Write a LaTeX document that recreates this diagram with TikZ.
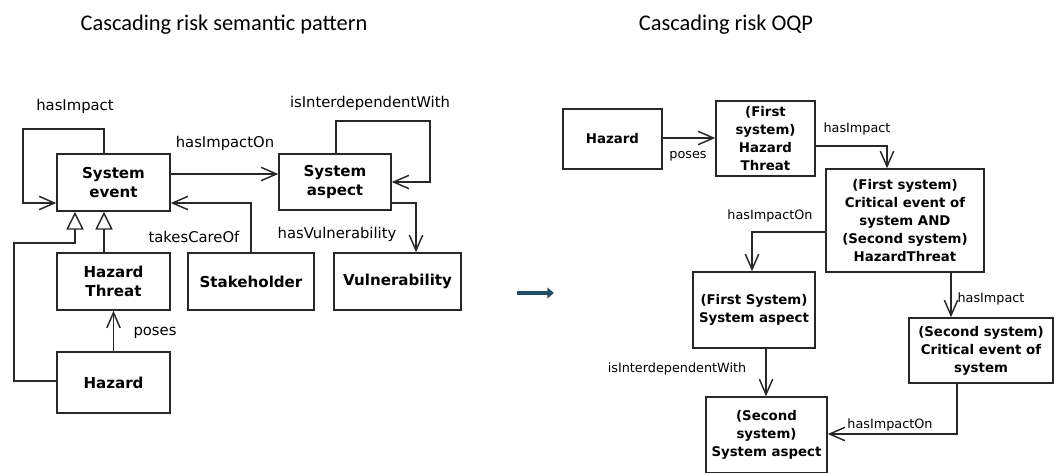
\documentclass[tikz,border=0pt]{standalone}
\usepackage{fontspec}
\setmainfont{DejaVu Sans}
\newfontfamily\titlefont{Carlito}
\usetikzlibrary{arrows.meta}
\definecolor{midarrow}{RGB}{31,78,102}
\definecolor{edge}{RGB}{40,40,40}

\begin{document}
\begin{tikzpicture}[x=0.75pt,y=-0.75pt,line width=1.1pt,draw=edge,
        cls/.style={draw=edge, inner sep=0pt, align=center, font=\fontsize{11.3}{14.25}\selectfont\bfseries},
        oqp/.style={draw=edge, inner sep=0pt, align=center, font=\fontsize{10}{13.5}\selectfont\bfseries},
        rel/.style={-{Straight Barb[length=11.5pt,width=10pt]}},
        isa/.style={-{Triangle[open,length=13.5pt,width=13pt]}},
        lbl/.style={inner sep=0pt, font=\fontsize{11.1}{13}\selectfont},
        rlbl/.style={inner sep=0pt, font=\fontsize{9.6}{11}\selectfont},
        ttl/.style={inner sep=0pt, font=\titlefont\fontsize{16.8}{19}\selectfont}]
        \useasboundingbox (0,0) rectangle (1059,472);

        \node[ttl] (title1) at (224,25) {Cascading risk semantic pattern};
        \node[ttl] (title2) at (726,25) {Cascading risk OQP};

        \node[cls, minimum width=84.75pt, minimum height=42.75pt] (sysevent) at (113.5,182.5) {System\\event};
        \node[cls, minimum width=84pt, minimum height=42pt] (sysaspect) at (335,182) {System\\aspect};
        \node[cls, minimum width=84.75pt, minimum height=42.75pt] (hthreat) at (113.5,281.5) {Hazard\\Threat};
        \node[cls, minimum width=94.5pt, minimum height=42.75pt] (stake) at (251,281.5) {Stakeholder};
        \node[cls, minimum width=95.25pt, minimum height=42.75pt] (vuln) at (397.5,281.5) {Vulnerability};
        \node[cls, minimum width=84.75pt, minimum height=45.75pt] (hazard) at (113.5,382.5) {Hazard};

        \draw[rel] (sysevent.north -| 104,0) -- (104,129) -- (23,129) -- (23,203) -- (sysevent.west |- 0,203);
        \draw[rel] (sysevent.east |- 0,174) -- (sysaspect.west |- 0,174);
        \draw[rel] (sysaspect.north -| 336,0) -- (336,121) -- (430,121) -- (430,182) -- (sysaspect.east);
        \draw[rel] (stake.north) |- (sysevent.east |- 0,203);
        \draw[rel] (sysaspect.east |- 0,203) -- (416,203) -- (vuln.north -| 416,0);
        \draw[rel] (hazard.north) -- (hthreat.south);
        \draw[isa] (hthreat.north -| 104,0) -- (sysevent.south -| 104,0);
        \draw[isa] (hazard.west |- 0,381) -- (14,381) -- (14,243) -- (75,243) -- (sysevent.south -| 75,0);

        \node[lbl] (l1) at (75,106) {hasImpact};
        \node[lbl] (l2) at (370,103) {isInterdependentWith};
        \node[lbl] (l3) at (225,143) {hasImpactOn};
        \node[lbl] (l4) at (194,237) {takesCareOf};
        \node[lbl] (l5) at (337,234) {hasVulnerability};
        \node[lbl] (l6) at (155,333) {poses};

        \coordinate (from) at (517,293);
        \coordinate (to) at (554,293);
        \draw[midarrow, line width=3pt, -{Triangle[length=5pt,width=8pt]}] (from) -- (to);

        \node[oqp, minimum width=74.25pt, minimum height=45pt] (rhazard) at (612.5,139) {Hazard};
        \node[oqp, minimum width=74.25pt, minimum height=56.25pt] (rthreat) at (765.5,138.5) {(First\\system)\\Hazard\\Threat};
        \node[oqp, minimum width=118.5pt, minimum height=77.25pt] (crit1) at (905,220.5) {(First system)\\Critical event of\\system AND\\(Second system)\\HazardThreat};
        \node[oqp, minimum width=91.5pt, minimum height=57pt] (aspect1) at (754,310) {(First System)\\System aspect};
        \node[oqp, minimum width=108pt, minimum height=48.75pt] (crit2) at (981,350.5) {(Second system)\\Critical event of\\system};
        \node[oqp, minimum width=90.75pt, minimum height=57pt] (aspect2) at (766.5,435) {(Second\\system)\\System aspect};

        \draw[rel] (rhazard.east |- 0,138) -- (rthreat.west |- 0,138);
        \draw[rel] (rthreat.east |- 0,146) -| (crit1.north -| 887,0);
        \draw[rel] (crit1.west |- 0,232) -| (aspect1.north -| 752,0);
        \draw[rel] (crit1.south -| 951,0) -- (crit2.north -| 951,0);
        \draw[rel] (aspect1.south -| 766,0) -- (aspect2.north -| 766,0);
        \draw[rel] (crit2.south -| 957,0) |- (aspect2.east |- 0,434);

        \node[rlbl] (r1) at (688,156) {poses};
        \node[rlbl] (r2) at (857,129) {hasImpact};
        \node[rlbl] (r3) at (770,216) {hasImpactOn};
        \node[rlbl] (r4) at (991,299) {hasImpact};
        \node[rlbl] (r5) at (677,369) {isInterdependentWith};
        \node[rlbl] (r6) at (890,425) {hasImpactOn};
    \end{tikzpicture}
\end{document}
